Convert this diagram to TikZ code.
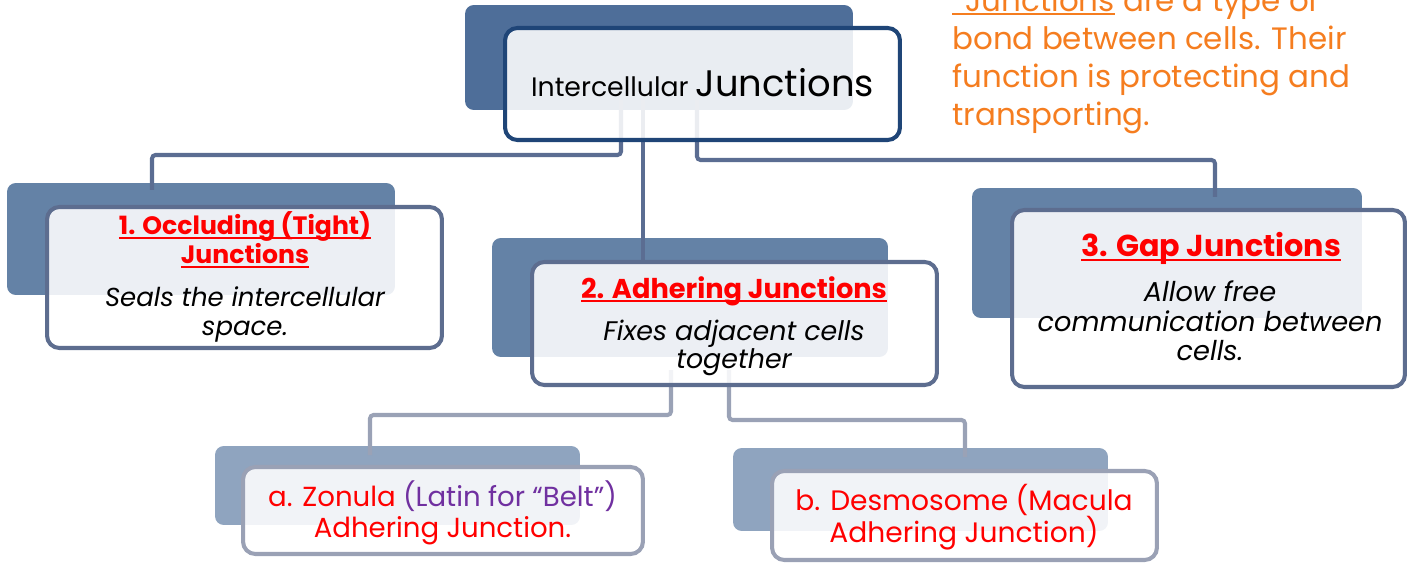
\documentclass[tikz,border=0pt]{standalone}
\usepackage{fontspec}
\setmainfont{Poppins}
\usetikzlibrary{calc}
\definecolor{cTopBack}{HTML}{4E6E99}
\definecolor{cTopLine}{HTML}{1F4577}
\definecolor{cMidBack}{HTML}{6482A6}
\definecolor{cMidLine}{HTML}{5D6D8F}
\definecolor{cConnA}{HTML}{5B6D92}
\definecolor{cLowBack}{HTML}{8FA4BF}
\definecolor{cLowLine}{HTML}{9AA1B5}
\definecolor{cConnB}{HTML}{9AA2B6}
\definecolor{cRed}{HTML}{FF0000}
\definecolor{cPurple}{HTML}{7030A0}
\definecolor{cOrange}{HTML}{F57D1F}
\newcommand\ulx[2][2pt]{\leavevmode\setbox0\hbox{#2}\rlap{\rule[-#1]{\wd0}{0.9pt}}\box0\relax}
\begin{document}
\begin{tikzpicture}[x=0.02cm,y=-0.02cm,
  backbox/.style={rounded corners=5pt, fill=#1, draw=none, inner sep=0pt},
  frontbox/.style={rounded corners=7pt, draw=#1, line width=2.3pt, fill=white, fill opacity=0.88, inner sep=0pt},
  conn/.style={draw=#1, line width=2.3pt, rounded corners=2pt},
  ttl/.style={anchor=base, inner sep=0pt, text=cRed, font=\bfseries\fontsize{#1}{#1}\selectfont},
  bod/.style={anchor=base, inner sep=0pt, text=black, font=\itshape\fontsize{#1}{#1}\selectfont},
  plain/.style={anchor=base, inner sep=0pt, font=\fontsize{#1}{#1}\selectfont},
  orng/.style={anchor=base west, inner sep=0pt, text=cOrange, font=\fontsize{17.6pt}{17.6pt}\selectfont}]
\useasboundingbox (0,0) rectangle (1407,564);
\clip (0,0) rectangle (1407,564);

% back rectangles
\node[backbox=cTopBack, minimum width=7.76cm, minimum height=2.10cm] (topback) at (659,57.5) {};
\node[backbox=cMidBack, minimum width=7.76cm, minimum height=2.24cm] (oneback) at (201,239) {};
\node[backbox=cMidBack, minimum width=7.92cm, minimum height=2.38cm] (twoback) at (690,297.5) {};
\node[backbox=cMidBack, minimum width=7.80cm, minimum height=2.60cm] (threeback) at (1167,253) {};
\node[backbox=cLowBack, minimum width=7.30cm, minimum height=1.58cm] (aback) at (397.5,485.5) {};
\node[backbox=cLowBack, minimum width=7.50cm, minimum height=1.66cm] (bback) at (920.5,489.5) {};

% connector end points
\coordinate (s1) at (621,100);
\coordinate (s2) at (643,100);
\coordinate (s3) at (697,100);
\coordinate (e1) at (152,190);
\coordinate (e2) at (643,260);
\coordinate (e3) at (1215,197);
\coordinate (s4) at (671,370);
\coordinate (s5) at (729,370);
\coordinate (e4) at (370,455);
\coordinate (e5) at (965,457);

\draw[conn=cConnA] (s1) -- ++(0,55) -| (e1);
\draw[conn=cConnA] (s2) -- (e2);
\draw[conn=cConnA] (s3) -- ++(0,60) -| (e3);
\draw[conn=cConnB] (s4) -- ++(0,45) -| (e4);
\draw[conn=cConnB] (s5) -- ++(0,50) -| (e5);

% front rectangles
\node[frontbox=cTopLine, minimum width=7.90cm, minimum height=2.24cm] (topfront) at (702.5,84) {};
\node[frontbox=cMidLine, minimum width=7.90cm, minimum height=2.82cm] (onefront) at (244.5,277.5) {};
\node[frontbox=cMidLine, minimum width=8.10cm, minimum height=2.46cm] (twofront) at (734.5,323.5) {};
\node[frontbox=cMidLine, minimum width=7.86cm, minimum height=3.54cm] (threefront) at (1208.5,298.5) {};
\node[frontbox=cLowLine, minimum width=8.00cm, minimum height=1.74cm] (afront) at (443,510.5) {};
\node[frontbox=cLowLine, minimum width=7.70cm, minimum height=1.78cm] (bfront) at (964.5,515.5) {};

% texts
\node[plain=15.2pt] (toptext) at (702.5,97) {Intercellular {\fontsize{21pt}{21pt}\selectfont Junctions}};

\node[orng] (o1) at (952,12) {\ulx[1.7pt]{\hspace{7.5pt}Junctions} are a type of};
\node[orng] (o2) at (952,50) {bond between cells. Their};
\node[orng] (o3) at (952,88) {function is protecting and};
\node[orng] (o4) at (952,126) {transporting.};

\node[ttl=14.3pt] (t1a) at (245,235) {\ulx{1. Occluding (Tight)}};
\node[ttl=14.3pt] (t1b) at (245,264) {\ulx{Junctions}};
\node[bod=14.8pt] (d1a) at (245,307) {Seals the intercellular};
\node[bod=14.8pt] (d1b) at (245,336) {space.};

\node[ttl=15.5pt] (t2a) at (734,298) {\ulx{2. Adhering Junctions}};
\node[bod=15.3pt] (d2a) at (734,340) {Fixes adjacent cells};
\node[bod=15.3pt] (d2b) at (734,368) {together};

\node[ttl=17.2pt] (t3a) at (1211,257) {\ulx{3. Gap Junctions}};
\node[bod=15.5pt] (d3a) at (1210,302) {Allow free};
\node[bod=15.5pt] (d3b) at (1210,332) {communication between};
\node[bod=15.5pt] (d3c) at (1210,360) {cells.};

\node[plain=15.7pt, text=cRed] (ta1) at (442.5,506) {a. Zonula {\color{cPurple}(Latin for “Belt”)}};
\node[plain=15.7pt, text=cRed] (ta2) at (442.5,537) {Adhering Junction.};

\node[plain=16pt, text=cRed] (tb1) at (964,510) {b. Desmosome (Macula};
\node[plain=16pt, text=cRed] (tb2) at (964,542) {Adhering Junction)};
\end{tikzpicture}
\end{document}
